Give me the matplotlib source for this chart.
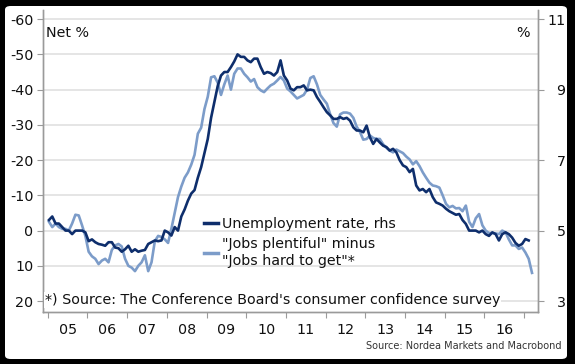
import numpy as np
import matplotlib
matplotlib.use('Agg')
import matplotlib.pyplot as plt
from matplotlib.patches import FancyBboxPatch
from matplotlib.lines import Line2D

plt.rcParams['axes.unicode_minus'] = False

# monthly data, Jan 2005 onwards
# "Jobs plentiful" minus "Jobs hard to get" (net %, lhs, inverted)
jobs_diff = [
    -2.5, -1, -2, -1, -0.5, -0.5, 0, -2, -4.5, -4.3, -1.5, 1.5,            # 2005
    6, 7.3, 8, 9.5, 8.5, 8, 9, 5.5, 4.2, 3.8, 4.5, 8,                      # 2006
    10, 10.5, 11.5, 10, 9, 7, 11.5, 9, 3, 1.5, 1.8, 2.5,                   # 2007
    3.5, -0.5, -5, -9.5, -12.5, -15, -16.5, -18.7, -21.5, -27.5, -29.2, -34.5,  # 2008
    -38, -43.5, -43.8, -42, -38.5, -41.5, -44, -40, -44.5, -46, -46, -44.5,     # 2009
    -43.5, -42.3, -43, -40.7, -39.8, -39.3, -40.3, -41.2, -41.7, -42.6, -43.6, -42.6,  # 2010
    -40.3, -39.5, -38.5, -37.5, -38, -38.5, -40, -43.3, -43.8, -41.5, -38.5, -37.2,   # 2011
    -36, -33, -30.5, -29.5, -33, -33.5, -33.5, -33.2, -32, -29.5, -28, -25.8,   # 2012
    -26, -27, -26.3, -26, -26, -24.5, -23.5, -22.7, -22.2, -23, -22.5, -22,     # 2013
    -21, -20.2, -18.8, -19.7, -18.3, -16.5, -15, -13.6, -12.8, -12.6, -12.2, -10,  # 2014
    -7.6, -6.6, -7, -6.3, -6.4, -5.5, -7.1, -2.5, -1, -3.5, -4.7, -1.5,          # 2015
    0, 0.7, 0.7, 0.8, 1, 0, 0.5, 2.5, 4.2, 4.2, 5.2, 4.8,                        # 2016
    6.2, 8, 12,                                                                 # 2017
]

# US unemployment rate (%, rhs)
unemployment = [
    5.3, 5.4, 5.2, 5.2, 5.1, 5.0, 5.0, 4.9, 5.0, 5.0, 5.0, 4.95,
    4.7, 4.75, 4.67, 4.62, 4.6, 4.57, 4.67, 4.67, 4.52, 4.5, 4.4, 4.47,
    4.57, 4.4, 4.47, 4.4, 4.43, 4.45, 4.62, 4.67, 4.72, 4.7, 4.72, 5.0,
    4.95, 4.86, 5.1, 5.0, 5.4, 5.6, 5.85, 6.05, 6.15, 6.5, 6.8, 7.2,
    7.6, 8.2, 8.65, 9.1, 9.4, 9.5, 9.5, 9.64, 9.8, 10.0, 9.93, 9.93,
    9.83, 9.78, 9.88, 9.88, 9.64, 9.45, 9.5, 9.47, 9.4, 9.5, 9.83, 9.4,
    9.26, 9.03, 8.98, 9.07, 9.07, 9.12, 8.98, 9.0, 8.98, 8.79, 8.65, 8.5,
    8.36, 8.27, 8.17, 8.17, 8.22, 8.17, 8.2, 8.12, 7.93, 7.84, 7.84, 7.79,
    7.98, 7.65, 7.46, 7.6, 7.5, 7.41, 7.37, 7.27, 7.32, 7.22, 7.0, 6.85,
    6.8, 6.66, 6.75, 6.28, 6.14, 6.18, 6.09, 6.18, 5.95, 5.8, 5.76, 5.71,
    5.62, 5.55, 5.5, 5.45, 5.47, 5.3, 5.19, 5.0, 5.0, 5.0, 4.95, 5.0,
    4.9, 4.85, 4.95, 4.9, 4.72, 4.9, 4.95, 4.9, 4.8, 4.65, 4.57, 4.62,
    4.76, 4.72,
]

year_labels = ['05', '06', '07', '08', '09', '10', '11', '12', '13', '14', '15', '16']

dark = '#0e2e6c'
light = '#7c9cc9'
grey = '#9a9a9a'
fs = 10.3

W, H = 575, 364
fig = plt.figure(figsize=(W / 100, H / 100), dpi=100, facecolor='black')

# white card with black frame
card = FancyBboxPatch((5 / W, 5 / H), (W - 13) / W, (H - 11) / H,
                      boxstyle='round,pad=0,rounding_size=0.01',
                      transform=fig.transFigure, facecolor='white', edgecolor='none',
                      zorder=-10)
fig.patches.append(card)

ax = fig.add_axes([43 / W, 1 - 312 / H, (537.7 - 43) / W, (312 - 10) / H])
ax2 = ax.twinx()

t_light = 2005.03 + np.arange(len(jobs_diff)) / 12
t_dark = 2005.03 + np.arange(len(unemployment)) / 12

ax.plot(t_light, jobs_diff, color=light, lw=1.9, solid_joinstyle='round', zorder=2)
ax2.plot(t_dark, unemployment, color=dark, lw=1.9, solid_joinstyle='round', zorder=3)

# left axis, inverted
ax.set_ylim(23.1, -62.6)
ax.set_yticks(np.arange(-60, 21, 10))
ax2.set_ylim(2.69, 11.26)
ax2.set_yticks([3, 5, 7, 9, 11])
ax.patch.set_visible(False)
ax2.patch.set_visible(False)

ax.set_xlim(2004.88, 2017.34)
ax.set_xticks(np.arange(2005, 2018))
ax.set_xticklabels([])
ax.set_xticks(np.arange(2005.5, 2017, 1), minor=True)
ax.set_xticklabels(year_labels, minor=True)

ax.grid(axis='y', color='#dedede', lw=1.1)
ax.set_axisbelow(True)

for a in (ax, ax2):
    for s in a.spines.values():
        s.set_color(grey)
        s.set_linewidth(1.0)
    a.spines['top'].set_visible(False)

ax.tick_params(axis='y', direction='out', length=4, color=grey, labelsize=fs, pad=3, labelcolor='#111111')
ax.tick_params(axis='x', which='major', direction='out', length=4, color=grey)
ax.tick_params(axis='x', which='minor', length=0, labelsize=fs, pad=8, labelcolor='#111111')
ax2.tick_params(axis='y', direction='out', length=4, color=grey, labelsize=fs, pad=16, labelcolor='#111111')
for lab in ax2.get_yticklabels():
    lab.set_horizontalalignment('right')

fig.text(46 / W, 1 - 33 / H, 'Net %', fontsize=fs, va='center', ha='left', color='#111111')
fig.text(530 / W, 1 - 33 / H, '%', fontsize=fs, va='center', ha='right', color='#111111')

handles = [Line2D([], [], color=dark, lw=2.5), Line2D([], [], color=light, lw=2.5)]
labels = ['Unemployment rate, rhs', '"Jobs plentiful" minus\n"Jobs hard to get"*']
leg = ax2.legend(handles, labels, loc='upper left', bbox_to_anchor=(204 / W, 1 - 217 / H),
                 bbox_transform=fig.transFigure, frameon=False, fontsize=fs,
                 handlelength=1.0, handletextpad=0.25, labelspacing=0.45,
                 borderpad=0, borderaxespad=0)
for txt in leg.get_texts():
    txt.set_color('#111111')
    txt.set_linespacing(1.25)

fig.text(45 / W, 1 - 300 / H, "*) Source: The Conference Board's consumer confidence survey",
         fontsize=fs, va='center', ha='left', color='#111111',
         bbox=dict(facecolor='white', edgecolor='none', pad=0.5))

fig.text(562 / W, 1 - 346 / H, 'Source: Nordea Markets and Macrobond', fontsize=7,
         va='center', ha='right', color='#333333')

fig.savefig('out.png', dpi=100, facecolor='black')
